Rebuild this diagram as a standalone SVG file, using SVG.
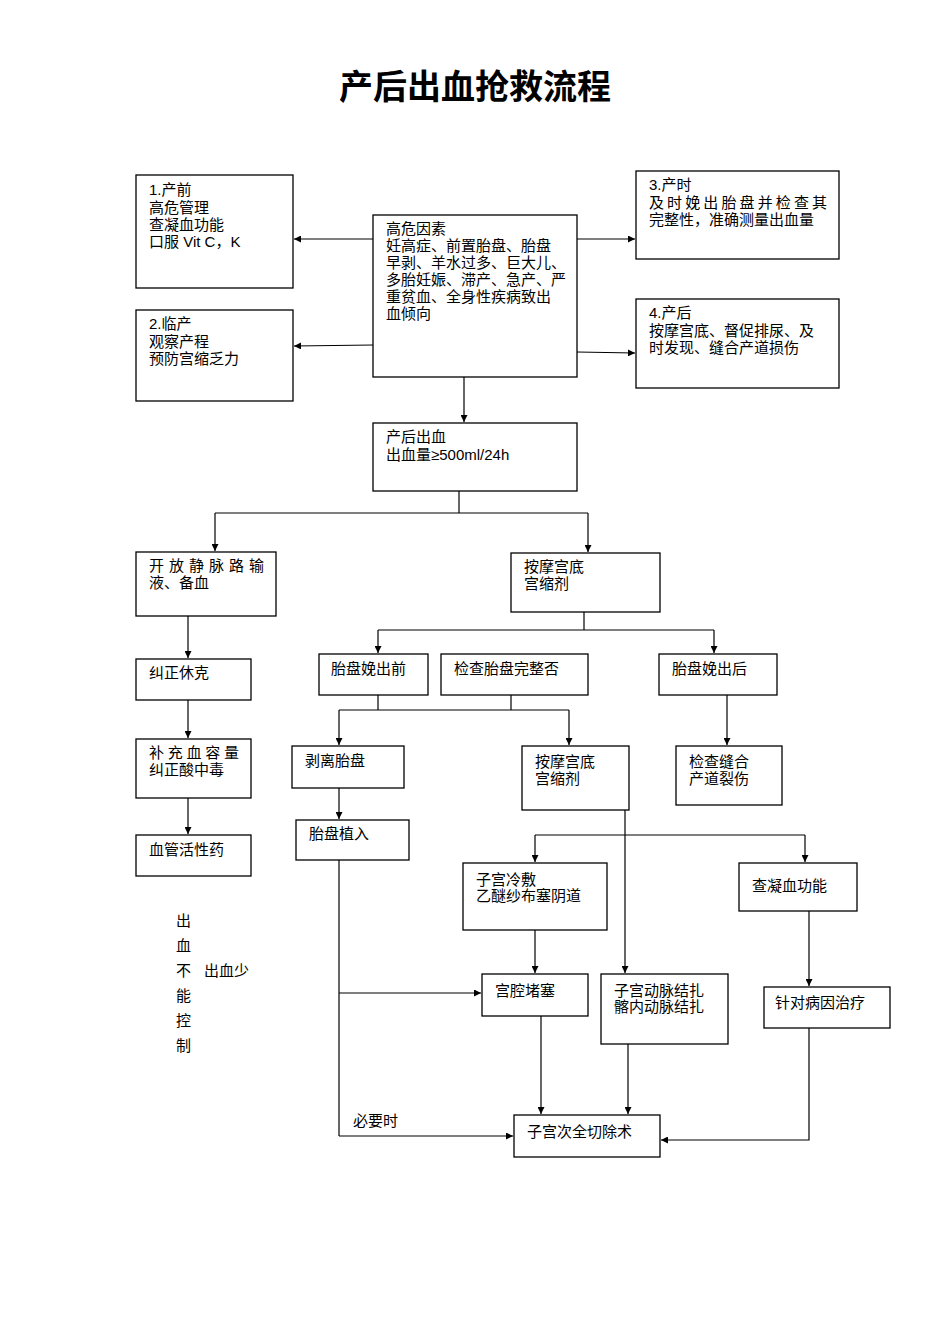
<svg xmlns="http://www.w3.org/2000/svg" width="950" height="1344" viewBox="0 0 950 1344">
<defs>
<marker id="a" viewBox="0 0 10 10" refX="10" refY="5" markerWidth="7" markerHeight="7" orient="auto" markerUnits="userSpaceOnUse"><path d="M0,0L10,5L0,10z" fill="#000"/></marker>
<style>
rect{fill:#fff;stroke:#000;stroke-width:1.3}
text{font-family:"Liberation Sans","Noto Sans CJK SC",sans-serif;font-size:15px;fill:#000}
.c line,.c polyline{stroke:#000;stroke-width:1.2;fill:none}
.ar{marker-end:url(#a)}
</style>
</defs>
<rect width="950" height="1344" style="stroke:none"/>
<text x="475" y="99" text-anchor="middle" style="font-size:34px;font-weight:bold;font-family:'Noto Sans CJK SC',sans-serif">产后出血抢救流程</text>
<g class="c">
<line class="ar" x1="373" y1="239" x2="294" y2="239"/>
<line class="ar" x1="373" y1="345" x2="294" y2="346"/>
<line class="ar" x1="577" y1="239" x2="635" y2="239"/>
<line class="ar" x1="577" y1="352" x2="635" y2="353"/>
<line class="ar" x1="464" y1="377" x2="464" y2="422"/>
<polyline points="459,491 459,513"/>
<polyline class="ar" points="215,513 215,551"/>
<polyline points="215,513 588,513"/>
<polyline class="ar" points="588,513 588,552"/>
<line class="ar" x1="188" y1="616" x2="188" y2="658"/>
<line class="ar" x1="188" y1="700" x2="188" y2="738"/>
<line class="ar" x1="188" y1="798" x2="188" y2="834"/>
<polyline points="584,612 584,630"/>
<polyline class="ar" points="378,630 378,653"/>
<polyline points="378,630 714,630"/>
<polyline class="ar" points="714,630 714,653"/>
<polyline points="378,695 378,710"/>
<polyline points="511,695 511,710"/>
<polyline class="ar" points="339,710 339,745"/>
<polyline points="339,710 569,710"/>
<polyline class="ar" points="569,710 569,745"/>
<line class="ar" x1="727" y1="695" x2="727" y2="745"/>
<line class="ar" x1="339" y1="788" x2="339" y2="819"/>
<line class="ar" x1="625" y1="810" x2="625" y2="973"/>
<polyline class="ar" points="535,835 535,862"/>
<polyline points="535,835 805,835"/>
<polyline class="ar" points="805,835 805,862"/>
<line class="ar" x1="535" y1="930" x2="535" y2="973"/>
<line class="ar" x1="809" y1="911" x2="809" y2="986"/>
<polyline points="339,860 339,1136"/>
<line class="ar" x1="339" y1="993" x2="481" y2="993"/>
<line class="ar" x1="339" y1="1136" x2="513" y2="1136"/>
<line class="ar" x1="541" y1="1016" x2="541" y2="1114"/>
<line class="ar" x1="628" y1="1044" x2="628" y2="1114"/>
<polyline class="ar" points="809,1028 809,1140 661,1140"/>
</g>
<g id="b1"><rect x="136" y="175" width="157" height="113"/><text x="149" y="195">1.产前</text><text x="149" y="213">高危管理</text><text x="149" y="230">查凝血功能</text><text x="149" y="247">口服 Vit C，K</text></g>
<g id="b2"><rect x="136" y="310" width="157" height="91"/><text x="149" y="329">2.临产</text><text x="149" y="347">观察产程</text><text x="149" y="364">预防宫缩乏力</text></g>
<g id="hr"><rect x="373" y="215" width="204" height="162"/><text x="386" y="234">高危因素</text><text x="386" y="251">妊高症、前置胎盘、胎盘</text><text x="386" y="268">早剥、羊水过多、巨大儿、</text><text x="386" y="285">多胎妊娠、滞产、急产、严</text><text x="386" y="302">重贫血、全身性疾病致出</text><text x="386" y="319">血倾向</text></g>
<g id="b3"><rect x="636" y="171" width="203" height="88"/><text x="649" y="190">3.产时</text><text x="649" y="208" textLength="178">及时娩出胎盘并检查其</text><text x="649" y="225">完整性，准确测量出血量</text></g>
<g id="b4"><rect x="636" y="299" width="203" height="89"/><text x="649" y="318">4.产后</text><text x="649" y="336">按摩宫底、督促排尿、及</text><text x="649" y="353">时发现、缝合产道损伤</text></g>
<g id="pph"><rect x="373" y="423" width="204" height="68"/><text x="386" y="442">产后出血</text><text x="386" y="460">出血量≥500ml/24h</text></g>
<g id="iv"><rect x="136" y="552" width="140" height="64"/><text x="149" y="571" textLength="115">开放静脉路输</text><text x="149" y="588">液、备血</text></g>
<g id="mas"><rect x="511" y="553" width="149" height="59"/><text x="524" y="572">按摩宫底</text><text x="524" y="589">宫缩剂</text></g>
<g id="jz"><rect x="136" y="659" width="115" height="41"/><text x="149" y="678">纠正休克</text></g>
<g id="bc"><rect x="136" y="739" width="115" height="59"/><text x="149" y="758" textLength="90">补充血容量</text><text x="149" y="775">纠正酸中毒</text></g>
<g id="xg"><rect x="136" y="835" width="115" height="41"/><text x="149" y="855">血管活性药</text></g>
<g id="tpq"><rect x="319" y="654" width="109" height="41"/><text x="331" y="674">胎盘娩出前</text></g>
<g id="jc"><rect x="441" y="654" width="147" height="41"/><text x="454" y="674">检查胎盘完整否</text></g>
<g id="tph"><rect x="659" y="654" width="118" height="41"/><text x="672" y="674">胎盘娩出后</text></g>
<g id="bl"><rect x="292" y="746" width="112" height="42"/><text x="305" y="766">剥离胎盘</text></g>
<g id="mas2"><rect x="522" y="746" width="107" height="64"/><text x="535" y="767">按摩宫底</text><text x="535" y="784">宫缩剂</text></g>
<g id="jcf"><rect x="676" y="746" width="106" height="59"/><text x="689" y="767">检查缝合</text><text x="689" y="784">产道裂伤</text></g>
<g id="tpzr"><rect x="296" y="820" width="113" height="40"/><text x="309" y="839">胎盘植入</text></g>
<g id="lf"><rect x="463" y="863" width="144" height="67"/><text x="476" y="885">子宫冷敷</text><text x="476" y="901">乙醚纱布塞阴道</text></g>
<g id="cn"><rect x="739" y="863" width="118" height="48"/><text x="752" y="891">查凝血功能</text></g>
<g id="gq"><rect x="482" y="974" width="106" height="42"/><text x="495" y="996">宫腔堵塞</text></g>
<g id="dm"><rect x="601" y="974" width="127" height="70"/><text x="614" y="996">子宫动脉结扎</text><text x="614" y="1012">髂内动脉结扎</text></g>
<g id="zd"><rect x="764" y="987" width="126" height="41"/><text x="775" y="1008">针对病因治疗</text></g>
<g id="qc"><rect x="514" y="1115" width="146" height="42"/><text x="527" y="1137">子宫次全切除术</text></g>
<g id="labels">
<text x="353" y="1126">必要时</text>
<text x="176" y="926">出</text><text x="176" y="951">血</text><text x="176" y="976">不</text><text x="176" y="1001">能</text><text x="176" y="1026">控</text><text x="176" y="1051">制</text>
<text x="204" y="976">出血少</text>
</g>
</svg>
